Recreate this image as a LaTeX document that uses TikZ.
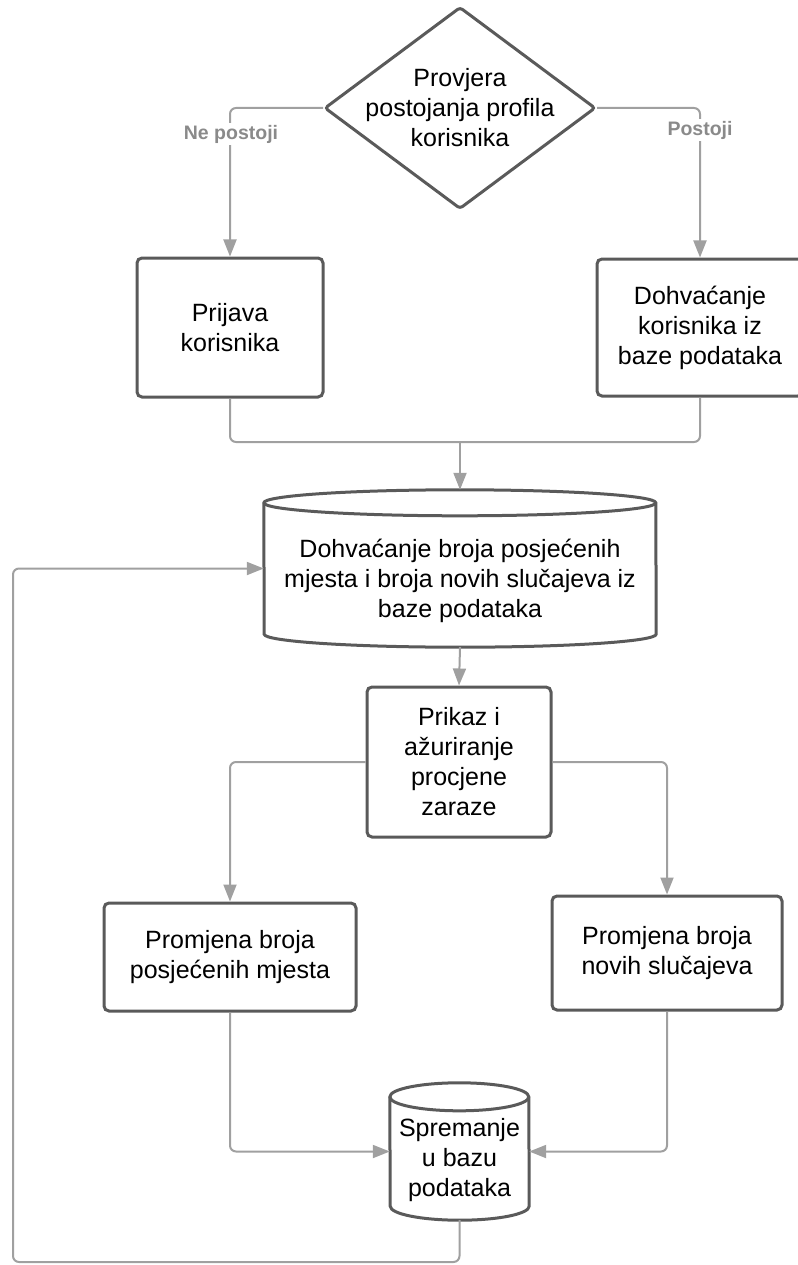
\documentclass[tikz,border=0pt]{standalone}
\usepackage{fontspec}
\setmainfont{Liberation Sans}
\usepackage{tikz}
\usetikzlibrary{arrows.meta,shapes.geometric}
\definecolor{edgegray}{HTML}{A0A0A0}
\definecolor{linegray}{HTML}{5A5A5A}
\definecolor{taggray}{HTML}{8A8A8A}

% outline of a database cylinder round a node
\newcommand{\cylinderline}[3]{%
  \draw[draw=linegray, line width=3pt, fill=white]
    ([yshift=-#3pt]#1.north west) arc[start angle=180, end angle=0, x radius=#2pt, y radius=#3pt]
    -- ([yshift=#3pt]#1.south east) arc[start angle=0, end angle=-180, x radius=#2pt, y radius=#3pt]
    -- cycle;
  \draw[draw=linegray, line width=3pt]
    ([yshift=-#3pt]#1.north west) arc[start angle=180, end angle=360, x radius=#2pt, y radius=#3pt];
}

\begin{document}
\begin{tikzpicture}[x=1pt, y=1pt,
    every node/.style={font=\fontsize{25}{30}\selectfont, align=center},
    box/.style={draw=linegray, line width=3pt, rounded corners=5pt, fill=white},
    decision/.style={diamond, draw=linegray, line width=3pt, rounded corners=3pt, inner sep=0pt},
    dbbox/.style={inner sep=0pt},
    line/.style={draw=edgegray, line width=2pt, rounded corners=6pt},
    flow/.style={line, -{Triangle[length=17pt,width=13pt]}},
    tag/.style={font=\fontsize{19.5}{21}\selectfont\bfseries, text=taggray, fill=white, inner sep=2pt}]
    \useasboundingbox (0,0) rectangle (797,-1265);

    \node[decision, minimum width=271pt, minimum height=202pt] (check) at (460,-108) {};
    \node (checktext) at (check.center) {Provjera\\postojanja profila\\korisnika};
    \node[box, minimum width=186pt, minimum height=139pt] (login) at (230,-327.5) {Prijava\\korisnika};
    \node[box, minimum width=206pt, minimum height=137pt] (user) at (700,-327.5) {Dohvaćanje\\korisnika iz\\baze podataka};

    \node[dbbox, minimum width=392pt, minimum height=157pt] (fetch) at (460,-568.5) {};
    \cylinderline{fetch}{196}{13}
    \node (fetchtext) at ([yshift=-12pt]fetch.center) {Dohvaćanje broja posjećenih\\mjesta i broja novih slučajeva iz\\baze podataka};

    \node[box, minimum width=184pt, minimum height=150pt] (show) at (459,-762) {Prikaz i\\ažuriranje\\procjene\\zaraze};
    \node[box, minimum width=252pt, minimum height=108pt] (visits) at (230,-957) {Promjena broja\\posjećenih mjesta};
    \node[box, minimum width=230pt, minimum height=114pt] (cases) at (667,-953) {Promjena broja\\novih slučajeva};

    \node[dbbox, minimum width=139pt, minimum height=137pt] (store) at (459.5,-1151.5) {};
    \cylinderline{store}{69.5}{14}
    \node (storetext) at ([yshift=-9pt]store.center) {Spremanje\\u bazu\\podataka};

    \draw[flow] (check.west) -| (login.north);
    \draw[flow] (check.east) -| (user.north);
    \node[tag] (no) at (231,-134) {Ne postoji};
    \node[tag] (yes) at (700,-130) {Postoji};

    \coordinate (join) at (460,-442);
    \draw[line] (login.south) |- (join);
    \draw[line] (user.south) |- (join);
    \draw[flow] (join) -- (fetch.north);
    \draw[flow] (fetch.south) -- (show.north);
    \draw[flow] (show.west) -| (visits.north);
    \draw[flow] (show.east) -| (cases.north);
    \draw[flow] (visits.south) |- (store.west);
    \draw[flow] (cases.south) |- (store.east);

    \coordinate (back) at (13,-1262);
    \draw[flow] (store.south) |- (back) |- (fetch.west);
\end{tikzpicture}
\end{document}
